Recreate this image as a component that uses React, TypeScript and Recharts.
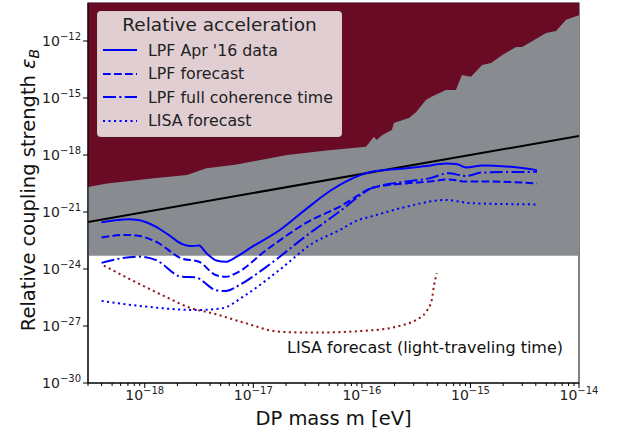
import React from 'react';
import { ComposedChart, XAxis, YAxis, Area, Line } from 'recharts';

// DP mass [eV] / coupling pairs
const boundMass = [3e-19, 4.5e-19, 1.21e-18, 2.44e-18, 3.7e-18, 7.05e-18, 1.42e-17, 2.04e-17, 4.97e-17, 1.09e-16, 1.29e-16, 1.37e-16, 1.53e-16, 1.89e-16, 1.97e-16, 2.71e-16, 3.15e-16, 3.89e-16, 4.42e-16, 5.94e-16, 7.34e-16, 8.35e-16, 1.01e-15, 1.28e-15, 1.55e-15, 1.95e-15, 2.63e-15, 2.99e-15, 3.47e-15, 4.97e-15, 6.14e-15, 7.6e-15, 1e-14];
const boundEps = [2.1e-20, 3.2e-20, 5.9e-20, 8.9e-20, 2.0e-19, 3.2e-19, 6.7e-19, 1.0e-18, 1.8e-18, 2.7e-18, 9.1e-18, 6.2e-18, 1.1e-17, 2.1e-17, 4.8e-17, 8.8e-17, 1.8e-16, 7.8e-16, 1.2e-15, 2.6e-15, 2.6e-15, 1.6e-14, 1.3e-14, 5.5e-14, 6.9e-14, 1.8e-13, 4.8e-13, 4.8e-13, 7.8e-13, 2.6e-12, 3.4e-12, 1.3e-11, 2.3e-11];

const microscopeMass = [3e-19, 1e-14];
const microscopeEps = [5e-24, 5e-24];

const anomalyMass = [3e-19, 1e-14];
const anomalyEps = [3e-22, 1e-17];

const lpfDataMass = [4.0e-19, 7.1e-19, 8.7e-19, 1.26e-18, 1.66e-18, 2.19e-18, 2.63e-18, 3.16e-18, 3.7e-18, 4.57e-18, 5.6e-18, 6.9e-18, 9.8e-18, 1.74e-17, 3.0e-17, 5.2e-17, 9.3e-17, 1.23e-16, 2.57e-16, 3.9e-16, 5.9e-16, 7.4e-16, 9.1e-16, 1.29e-15, 2.14e-15, 4.1e-15];
const lpfDataEps = [2.9e-22, 4.2e-22, 3.8e-22, 1.7e-22, 6.2e-23, 2.1e-23, 1.6e-23, 1.7e-23, 6.8e-24, 2.8e-24, 2.4e-24, 4.2e-24, 1.5e-23, 1.1e-22, 1.3e-21, 1.4e-20, 8e-20, 1.3e-19, 2.0e-19, 2.6e-19, 3.6e-19, 3.4e-19, 2.2e-19, 2.8e-19, 2.5e-19, 1.6e-19];

const lpfForecastMass = [4.0e-19, 6.6e-19, 8.7e-19, 1.26e-18, 2.19e-18, 3.16e-18, 4.5e-18, 5.6e-18, 6.9e-18, 1.32e-17, 3.0e-17, 7.1e-17, 9.3e-17, 1.23e-16, 2.57e-16, 4.2e-16, 6.3e-16, 9.1e-16, 1.48e-15, 4.1e-15];
const lpfForecastEps = [4.5e-23, 6.2e-23, 5.6e-23, 2.8e-23, 3.6e-24, 2.4e-24, 4.8e-25, 3.9e-25, 5.9e-25, 1.0e-23, 2.5e-22, 2.9e-21, 7.8e-21, 1.8e-20, 3.2e-20, 4.0e-20, 5.2e-20, 4.0e-20, 4.0e-20, 3.2e-20];

const lpfCoherenceMass = [4.0e-19, 8.7e-19, 1.26e-18, 2.19e-18, 2.95e-18, 4.5e-18, 5.6e-18, 7.4e-18, 1.32e-17, 3.0e-17, 7.1e-17, 9.3e-17, 1.23e-16, 2.57e-16, 4.2e-16, 6.3e-16, 9.1e-16, 1.29e-15, 4.1e-15];
const lpfCoherenceEps = [2.1e-24, 4.5e-24, 3.0e-24, 3.9e-25, 3.6e-25, 7.8e-26, 6.9e-26, 1.4e-25, 1.3e-24, 5.0e-23, 1.9e-21, 6.5e-21, 1.8e-20, 4.0e-20, 5.9e-20, 1.1e-19, 7.8e-20, 1.2e-19, 1.3e-19];

const lisaMass = [4.0e-19, 1.02e-18, 2.95e-18, 5.1e-18, 8.5e-18, 1.74e-17, 3.5e-17, 6.2e-17, 9.3e-17, 1.23e-16, 2.57e-16, 5.9e-16, 1.02e-15, 4.1e-15];
const lisaEps = [2.1e-26, 1.05e-26, 6.9e-27, 8.5e-27, 4.3e-26, 8.9e-25, 2.2e-23, 1.1e-22, 3.8e-22, 5.9e-22, 1.9e-21, 4.3e-21, 2.9e-21, 2.5e-21];

const lisaLightMass = [4.2e-19, 7.6e-19, 1.55e-18, 2.7e-18, 4.2e-18, 8.5e-18, 1.74e-17, 3.5e-17, 1.35e-16, 2.2e-16, 3.16e-16, 3.9e-16, 4.4e-16, 4.6e-16, 4.9e-16];
const lisaLightEps = [1.5e-24, 2.6e-25, 3.5e-26, 8.5e-27, 4.7e-27, 1.4e-27, 5.0e-28, 4.5e-28, 6.2e-28, 1.0e-27, 2.1e-27, 5.6e-27, 2.3e-26, 1.2e-25, 5.9e-25];

const xMajorTicks = [1e-18, 1e-17, 1e-16, 1e-15, 1e-14];
const xMinorSteps = [2, 3, 4, 5, 6, 7, 8, 9];
const yTicks = [1e-30, 1e-27, 1e-24, 1e-21, 1e-18, 1e-15, 1e-12];

const X_MIN = 3e-19;
const X_MAX = 1e-14;
const Y_MIN = 1e-30;
const Y_MAX = 1e-10;

const xTicks = [...xMajorTicks, ...[1e-19, 1e-18, 1e-17, 1e-16, 1e-15].flatMap((d) => xMinorSteps.map((s) => s * d))]
  .filter((v) => v >= X_MIN * 0.999 && v <= X_MAX * 1.001)
  .sort((a, b) => a - b);

const pairs = (ms: number[], es: number[]) => ms.map((m, i) => ({ m, eps: es[i] }));
const band = (ms: number[], es: number[]) => ms.map((m, i) => ({ m, band: [es[i], Y_MAX] }));

const FONT = '"DejaVu Sans", sans-serif';
const MAROON = '#6a0b26';
const GREY = '#888b8f';
const BLUE = '#0000ff';
const DARKRED = '#931515';

const isDecade = (v: number) => Math.abs(Math.log10(v) - Math.round(Math.log10(v))) < 1e-6;

const PowerLabel = ({ v, ...rest }: any) => {
  const exp = Math.round(Math.log10(v));
  return (
    <text fontFamily={FONT} fontSize={14} fill="#222" {...rest}>
      <tspan>10</tspan>
      <tspan dy={-6} fontSize={10}>{'\u2212' + Math.abs(exp)}</tspan>
    </text>
  );
};

const XTick = (props: any) => {
  const { x, y, payload } = props;
  const major = isDecade(payload.value);
  return (
    <g>
      <line x1={x} x2={x} y1={y} y2={y + (major ? 5 : 3)} stroke="#000" strokeWidth={1} />
      {major && <PowerLabel v={payload.value} x={x} y={y + 17} textAnchor="middle" />}
    </g>
  );
};

const YTick = (props: any) => {
  const { x, y, payload } = props;
  return (
    <g>
      <line x1={x - 5} x2={x} y1={y} y2={y} stroke="#000" strokeWidth={1} />
      <PowerLabel v={payload.value} x={x - 7} y={y + 5} textAnchor="end" />
    </g>
  );
};

const legendItems = [
  { label: "LPF Apr '16 data", dash: undefined },
  { label: 'LPF forecast', dash: '7.7 3.3' },
  { label: 'LPF full coherence time', dash: '13 3.3 2.1 3.3' },
  { label: 'LISA forecast', dash: '2.1 3.4' },
];

const LegendBox = () => (
  <div
    style={{
      position: 'absolute',
      left: 97,
      top: 11,
      width: 245,
      height: 126,
      background: 'rgba(255,255,255,0.8)',
      border: '1px solid rgba(204,204,204,0.8)',
      borderRadius: 4,
      boxSizing: 'border-box',
      fontFamily: FONT,
      color: '#222',
    }}
  >
    <div style={{ position: 'absolute', left: 0, right: 0, top: 2, textAlign: 'center', fontSize: 18.5 }}>
      Relative acceleration
    </div>
    {legendItems.map((it, i) => (
      <div key={it.label} style={{ position: 'absolute', left: 4, top: 28 + i * 23.5, height: 20, display: 'flex', alignItems: 'center' }}>
        <svg width={36} height={20}>
          <line x1={1} x2={35} y1={10} y2={10} stroke={BLUE} strokeWidth={2} strokeDasharray={it.dash} />
        </svg>
        <span style={{ marginLeft: 10, fontSize: 15.8, whiteSpace: 'nowrap' }}>{it.label}</span>
      </div>
    ))}
  </div>
);

export default function App() {
  return (
    <div style={{ position: 'absolute', left: 0, top: 0, width: 617, height: 437, background: '#fff' }}>
      <ComposedChart width={617} height={437} margin={{ top: 3, right: 38, bottom: 0, left: 0 }}>
        <XAxis
          dataKey="m"
          type="number"
          scale="log"
          domain={[X_MIN, X_MAX]}
          allowDataOverflow
          ticks={xTicks}
          interval={0}
          tickSize={0}
          tickMargin={0}
          tickLine={false}
          tick={<XTick />}
          height={54}
          axisLine={{ stroke: '#000', strokeWidth: 1 }}
        />
        <YAxis
          type="number"
          scale="log"
          domain={[Y_MIN, Y_MAX]}
          allowDataOverflow
          ticks={yTicks}
          interval={0}
          tickSize={0}
          tickMargin={0}
          tickLine={false}
          tick={<YTick />}
          width={88}
          axisLine={{ stroke: '#000', strokeWidth: 1 }}
        />
        <Area
          data={band(microscopeMass, microscopeEps)}
          dataKey="band"
          type="linear"
          stroke="none"
          fill={GREY}
          fillOpacity={1}
          isAnimationActive={false}
          activeDot={false}
        />
        <Area
          data={band(boundMass, boundEps)}
          dataKey="band"
          type="linear"
          stroke="none"
          fill={MAROON}
          fillOpacity={1}
          isAnimationActive={false}
          activeDot={false}
        />
        <Line data={pairs(anomalyMass, anomalyEps)} dataKey="eps" type="linear" stroke="#000" strokeWidth={2} dot={false} activeDot={false} isAnimationActive={false} />
        <Line data={pairs(lpfDataMass, lpfDataEps)} dataKey="eps" type="monotone" stroke={BLUE} strokeWidth={2} dot={false} activeDot={false} isAnimationActive={false} />
        <Line data={pairs(lpfForecastMass, lpfForecastEps)} dataKey="eps" type="monotone" stroke={BLUE} strokeWidth={2} strokeDasharray="7.7 3.3" dot={false} activeDot={false} isAnimationActive={false} />
        <Line data={pairs(lpfCoherenceMass, lpfCoherenceEps)} dataKey="eps" type="monotone" stroke={BLUE} strokeWidth={2} strokeDasharray="13 3.3 2.1 3.3" dot={false} activeDot={false} isAnimationActive={false} />
        <Line data={pairs(lisaMass, lisaEps)} dataKey="eps" type="monotone" stroke={BLUE} strokeWidth={2} strokeDasharray="2.1 3.4" dot={false} activeDot={false} isAnimationActive={false} />
        <Line data={pairs(lisaLightMass, lisaLightEps)} dataKey="eps" type="monotone" stroke={DARKRED} strokeWidth={2} strokeDasharray="2.1 3.4" dot={false} activeDot={false} isAnimationActive={false} />
        <rect x={88} y={3} width={491} height={380} fill="none" stroke="#000" strokeWidth={1} />
        <text x={352} y={47} fontFamily={FONT} fontSize={16} fill="#fff">LPF 2301.08736</text>
        <text x={466} y={137} fontFamily={FONT} fontSize={16} fill="#111">Anomaly</text>
        <text x={439} y={244} fontFamily={FONT} fontSize={16} fill="#111">MICROSCOPE</text>
        <text x={287} y={353} fontFamily={FONT} fontSize={16} fill="#111">LISA forecast (light-traveling time)</text>
        <text x={333.5} y={425} fontFamily={FONT} fontSize={19.5} fill="#111" textAnchor="middle">DP mass m [eV]</text>
        <text x={35} y={190} fontFamily={FONT} fontSize={19.5} fill="#111" textAnchor="middle" transform="rotate(-90 35 190)">
          Relative coupling strength <tspan fontStyle="italic">ε</tspan>
          <tspan fontStyle="italic" fontSize={14} dy={4}>B</tspan>
        </text>
      </ComposedChart>
      <LegendBox />
    </div>
  );
}
